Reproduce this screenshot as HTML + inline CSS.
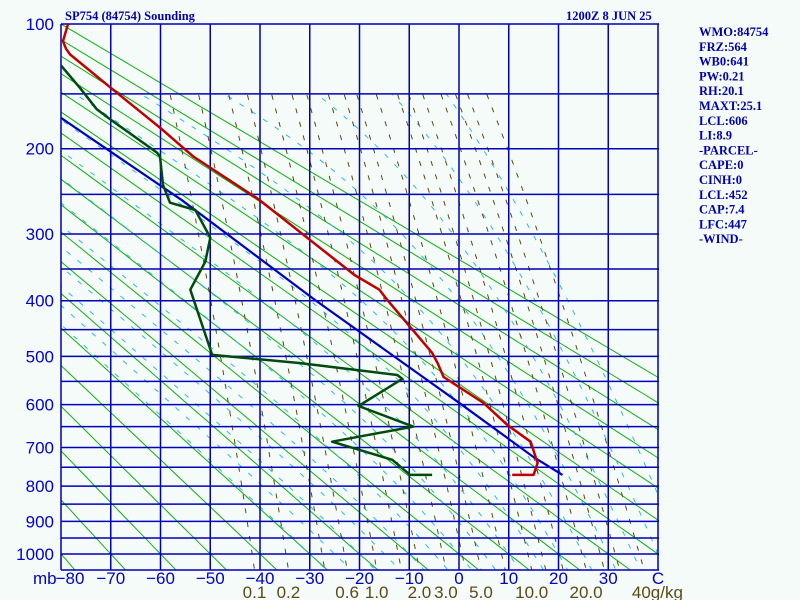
<!DOCTYPE html>
<html><head><meta charset="utf-8"><style>
html,body{margin:0;padding:0;background:#f4fbf8;}
svg{display:block;}
.info{font-family:"Liberation Serif",serif;font-weight:bold;font-size:12.5px;fill:#0000b0;}
.ax{font-family:"Liberation Sans",sans-serif;font-size:17px;fill:#0000d0;}
.mr{font-family:"Liberation Sans",sans-serif;font-size:17px;fill:#5a4a18;}
</style></head><body>
<svg id="chart" width="800" height="600" viewBox="0 0 800 600" xmlns="http://www.w3.org/2000/svg">
<rect x="0" y="0" width="800" height="600" fill="#f4fbf8"/>
<defs><clipPath id="clip"><rect x="61" y="24" width="598" height="546"/></clipPath>
<clipPath id="clip2"><rect x="61" y="94" width="598" height="476"/></clipPath></defs>
<g id="adiabats" clip-path="url(#clip)"></g>
<g id="moist" clip-path="url(#clip2)"></g>
<g id="mixing" clip-path="url(#clip2)"></g>
<g id="grid"></g>
<g id="series" clip-path="url(#clip)"></g>
<g id="labels"></g>
<text x="65" y="20" class="info">SP754 (84754) Sounding</text>
<text x="566" y="20" class="info">1200Z  8 JUN 25</text>
<g id="infopanel"></g>
</svg>
<script>
// ---- data ----
const pressureTicks = [100,200,300,400,500,600,700,800,900,1000];
const tempTicks = [-80,-70,-60,-50,-40,-30,-20,-10,0,10,20,30];
const mixRatioLabels = ["0.1","0.2","0.6","1.0","2.0","3.0","5.0","10.0","20.0"];
const mixRatioLines = [0.1,0.2,0.4,0.6,1,1.5,2,3,4,5,7,10,12,15,20,25,30,40];
const tempP = [100,111,116,120,145,180,198,208,255,262,308,359,382,399,493,513,541,596,646,686,739,770,770];
const tempT = [-78.6,-79.6,-79,-78.2,-70,-60,-55.7,-53.4,-40.5,-39,-30,-21,-16,-14.4,-5.4,-4.3,-3.1,4.9,9.7,14.4,15.8,15,10.7];
const dewP = [127,145,163,172,204,208,239,260,269,305,339,382,497,513,537,545,603,650,686,731,770,770];
const dewT = [-80.2,-76.2,-72.8,-70.1,-60.7,-60.1,-59.5,-58.1,-53,-50,-51,-54,-49.6,-31.9,-12.4,-11.4,-20.2,-9.2,-25.5,-13.4,-9.8,-5.4];
const parcelP = [170,257,399,598,724,770];
const parcelT = [-80.2,-55.7,-28.9,0.3,15.0,20.8];
const infoLines = ["WMO:84754","FRZ:564","WB0:641","PW:0.21","RH:20.1","MAXT:25.1","LCL:606","LI:8.9","-PARCEL-","CAPE:0","CINH:0","LCL:452","CAP:7.4","LFC:447","-WIND-"];

// ---- axes ----
const K=0.286, P0k=Math.pow(100,K), P1k=Math.pow(1000,K);
function y(p){return 24+(Math.pow(p,K)-P0k)/(P1k-P0k)*530;}
function x(T){return 61+(T+80)*4.975;}
const NS="http://www.w3.org/2000/svg";
function mk(tag,attrs,parent){const e=document.createElementNS(NS,tag);for(const k in attrs)e.setAttribute(k,attrs[k]);parent.appendChild(e);return e;}
function pts(ps,ts){return ps.map((p,i)=>x(ts[i]).toFixed(1)+","+y(p).toFixed(1)).join(" ");}

// dry adiabats
const ad=document.getElementById('adiabats');
for(let th=193.15;th<=373.2;th+=10){
  const a=[];for(let p=60;p<=1060;p+=20){a.push(x(th*Math.pow(p/1000,K)-273.15).toFixed(1)+","+y(p).toFixed(1));}
  const l=mk('polyline',{points:a.join(" "),fill:"none",stroke:"#10b010","stroke-width":"1"},ad);
  
  
}
// moist adiabats
function es(T){return 6.112*Math.exp(17.67*T/(T+243.5));}
function dTdp(p,T){const Tk=T+273.15,e=es(T),rs=0.622*e/(p-e),Rd=287,Lv=2.5e6,cp=1004;
  return (Rd*Tk+Lv*rs)/(cp+Lv*Lv*rs*0.622/(Rd*Tk*Tk))/p;}
const mo=document.getElementById('moist');
for(let T0=-30;T0<=45;T0+=5){
  const a=[];let T=T0;
  for(let p=1000;p<=1060;p+=5){a.push([p,T]);T+=dTdp(p,T)*5;}
  T=T0;const b=[];
  for(let p=1000;p>=140;p-=5){b.push([p,T]);T-=dTdp(p,T)*5;}
  const all=b.reverse().concat(a.slice(1));
  const l=mk('polyline',{points:all.map(q=>x(q[1]).toFixed(1)+","+y(q[0]).toFixed(1)).join(" "),fill:"none",stroke:"#30b8e0","stroke-width":"1","stroke-dasharray":"5,9"},mo);
  
  
}
// mixing ratio
function tdw(w,p){const e=w*p/(622+w),l=Math.log(e/6.112);return 243.5*l/(17.67-l);}
const mx=document.getElementById('mixing');
mixRatioLines.forEach(w=>{
  const a=[];for(let p=140;p<=1060;p+=20)a.push(x(tdw(w,p)).toFixed(1)+","+y(p).toFixed(1));
  const l=mk('polyline',{points:a.join(" "),fill:"none",stroke:"#5a4a10","stroke-width":"1","stroke-dasharray":"5,9"},mx);
  
  
});
// grid
const g=document.getElementById('grid');
for(let p=100;p<=1000;p+=50){const l=mk('line',{x1:61,x2:659,y1:y(p),y2:y(p),stroke:"#0000b8","stroke-width":"1.5"},g);
  
  }
for(let T=-80;T<=40;T+=10){const l=mk('line',{x1:x(T),x2:x(T),y1:24,y2:570,stroke:"#0000b8","stroke-width":"1.5"},g);
  
  }
const bl=mk('line',{x1:61,x2:659,y1:570,y2:570,stroke:"#0000b8","stroke-width":"1.5"},g);


// series
const s=document.getElementById('series');
const pl=mk('polyline',{points:pts(parcelP,parcelT),fill:"none",stroke:"#0000c0","stroke-width":"2.2"},s);


const dl=mk('polyline',{points:pts(dewP,dewT),fill:"none",stroke:"#004a10","stroke-width":"2.5","stroke-linejoin":"round"},s);


const tl=mk('polyline',{points:pts(tempP,tempT),fill:"none",stroke:"#c00000","stroke-width":"2.5","stroke-linejoin":"round"},s);


// labels
const lb=document.getElementById('labels');
pressureTicks.forEach(p=>{const t=mk('text',{x:54,y:y(p)+6,"text-anchor":"end",class:"ax"},lb);t.textContent=p;
  
  });
const mb=mk('text',{x:33,y:584,class:"ax"},lb);mb.textContent="mb";


tempTicks.forEach(T=>{const t=mk('text',{x:x(T)+(T===-80?9:0),y:584,"text-anchor":"middle",class:"ax"},lb);t.textContent=(T<0?"\u2212"+(-T):T);
  
  });
const c=mk('text',{x:x(40),y:584,"text-anchor":"middle",class:"ax"},lb);c.textContent="C";


mixRatioLabels.forEach(w=>{const t=mk('text',{x:x(tdw(parseFloat(w),1050)),y:598,"text-anchor":"middle",class:"mr"},lb);t.textContent=w;
  
  });
const gk=mk('text',{x:x(tdw(40,1050))-12,y:598,class:"mr"},lb);gk.textContent="40g/kg";


// info panel
const ip=document.getElementById('infopanel');
infoLines.forEach((s,i)=>{const t=mk('text',{x:699,y:36+i*14.8,class:"info"},ip);t.textContent=s;
  
  });
</script>
</body></html>
